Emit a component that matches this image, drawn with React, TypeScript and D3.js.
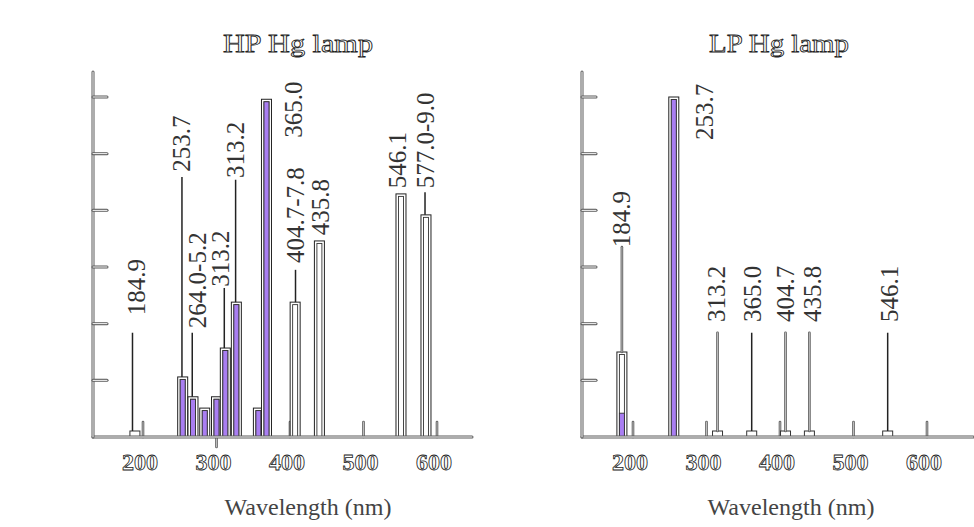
import React from 'react';
import * as d3 from 'd3';

// ---------- shared axis data ----------
const X_TICKS = [200, 300, 400, 500, 600];
const Y_TICKS = [1, 2, 3, 4, 5, 6];

// ---------- HP Hg lamp ----------
const HP_BAR_NM = [254, 268, 284, 300, 312, 327, 357, 368, 407, 440, 551, 585];
const HP_BAR_REL = [1.06, 0.71, 0.51, 0.71, 1.57, 2.38, 0.51, 5.96, 2.38, 3.46, 4.29, 3.92];
const HP_BAR_FILL_REL = [1.06, 0.71, 0.51, 0.71, 1.57, 2.38, 0.51, 5.96, 0, 0, 0, 0];
const HP_LINE_NM = [185.7, 253, 267, 310.6, 326, 407.5, 583.7];
const HP_LINE_REL = [1.84, 4.59, 1.84, 2.63, 4.54, 2.95, 4.32];
const HP_BASE_NM = [189];
const HP_LABELS = ['184.9', '253.7', '264.0-5.2', '313.2', '313.2', '365.0', '404.7-7.8', '435.8', '546.1', '577.0-9.0'];
const HP_LABEL_NM = [190.5, 253, 274, 304.8, 326.5, 405.4, 407.5, 442, 546.3, 583.7];
const HP_LABEL_REL = [2.15, 4.68, 1.92, 2.65, 4.57, 5.28, 3.07, 3.56, 4.39, 4.39];

// ---------- LP Hg lamp ----------
const LP_BAR_NM = [184.9, 255.5];
const LP_BAR_REL = [1.5, 6];
const LP_BAR_FILL_REL = [0.42, 6];
const LP_LINE_NM = [184.9, 315, 361.5, 407.5, 440, 546.5];
const LP_LINE_REL = [3.35, 1.84, 1.84, 1.84, 1.84, 1.84];
const LP_BASE_NM = [315, 361.5, 407.5, 440, 546.5];
const LP_LABELS = ['184.9', '253.7', '313.2', '365.0', '404.7', '435.8', '546.1'];
const LP_LABEL_NM = [184.9, 297.7, 314, 362, 407.5, 444.7, 549];
const LP_LABEL_REL = [3.35, 5.24, 2.03, 2.03, 2.03, 2.03, 2.03];

const PURPLE = '#a97ef2';
const SERIF = "'Liberation Serif', 'Times New Roman', Times, serif";
const BAR_W = 10;
const BASE_Y = 437;

const yScale = d3.scaleLinear().domain([0, 6]).range([BASE_Y, 97]);

type PanelProps = {
  title: string;
  titleX: number;
  titleW: number;
  xScale: d3.ScaleLinear<number, number>;
  axisX: number;
  axisEnd: number;
  barNm: number[];
  barRel: number[];
  barFillRel: number[];
  lineNm: number[];
  lineRel: number[];
  darkLine: (i: number) => boolean;
  baseNm: number[];
  labels: string[];
  labelNm: number[];
  labelRel: number[];
  xlabelX: number;
  downTicks: number[];
};

function Hollow({ d, w = 3 }: { d: string; w?: number }) {
  return (
    <g>
      <path d={d} stroke="#5a5a5a" strokeWidth={w} fill="none" strokeLinecap="round" />
      <path d={d} stroke="#fff" strokeWidth={w - 2} fill="none" strokeLinecap="round" />
    </g>
  );
}

function Panel(p: PanelProps) {
  const x = p.xScale;
  const y = yScale;
  const tickUpH = 15;
  return (
    <g>
      <text x={p.titleX} y={52} textAnchor="middle" style={{ fontFamily: SERIF }} fontSize={25}
        fill="#fff" stroke="#222" strokeWidth={0.8} textLength={p.titleW} lengthAdjust="spacingAndGlyphs">
        {p.title}
      </text>

      {X_TICKS.map((t) => (
        <Hollow key={'tu' + t} d={`M${x(t)},${BASE_Y}V${BASE_Y - tickUpH}`} w={2.6} />
      ))}
      {p.downTicks.map((t) => (
        <Hollow key={'td' + t} d={`M${x(t)},${BASE_Y}V${BASE_Y + 10}`} w={2.6} />
      ))}

      {p.barNm.map((nm, i) => {
        const cx = x(nm);
        const top = y(p.barRel[i]);
        const ftop = y(p.barFillRel[i]);
        return (
          <g key={'b' + i}>
            <rect x={cx - BAR_W / 2} y={top} width={BAR_W} height={BASE_Y - top}
              fill="#fff" stroke="#222" strokeWidth={1} />
            <rect x={cx - BAR_W / 2 + 2.5} y={top + 2.5} width={BAR_W - 5} height={BASE_Y - top - 2.5}
              fill="#fff" stroke="#333" strokeWidth={0.9} />
            {p.barFillRel[i] > 0 && (
              <rect x={cx - BAR_W / 2 + 2.5} y={Math.max(ftop, top + 2.5)} width={BAR_W - 5}
                height={BASE_Y - Math.max(ftop, top + 2.5)} fill={PURPLE} stroke="#333" strokeWidth={0.9} />
            )}
          </g>
        );
      })}

      {p.baseNm.map((nm, i) => (
        <rect key={'bb' + i} x={x(nm) - 5} y={BASE_Y - 6} width={10} height={6}
          fill="#fff" stroke="#333" strokeWidth={1} />
      ))}

      {p.lineNm.map((nm, i) => {
        const cx = x(nm);
        let start = BASE_Y - 6;
        p.barNm.forEach((bn, j) => {
          if (Math.abs(x(bn) - cx) < BAR_W / 2) start = Math.min(start, y(p.barRel[j]));
        });
        const top = y(p.lineRel[i]);
        return p.darkLine(i) ? (
          <line key={'l' + i} x1={cx} x2={cx} y1={start} y2={top} stroke="#222" strokeWidth={1.5} />
        ) : (
          <Hollow key={'l' + i} d={`M${cx},${start}V${top}`} w={2.6} />
        );
      })}

      <Hollow d={`M${p.axisX},${BASE_Y}H${p.axisEnd}`} w={3} />
      <Hollow d={`M${p.axisX},${BASE_Y}V72`} w={3} />
      {Y_TICKS.map((t) => (
        <Hollow key={'yt' + t} d={`M${p.axisX},${y(t)}H${p.axisX + 14}`} w={3} />
      ))}

      {p.labels.map((lab, i) => (
        <text key={'lab' + i}
          transform={`translate(${x(p.labelNm[i])},${y(p.labelRel[i])}) rotate(-90)`}
          dy="0.34em" style={{ fontFamily: SERIF }} fontSize={25} fill="#333">
          {lab}
        </text>
      ))}

      {X_TICKS.map((t) => (
        <text key={'xl' + t} x={x(t) - 3} y={470} textAnchor="middle" style={{ fontFamily: SERIF }}
          fontSize={23} fontWeight="bold" fill="#fff" stroke="#222" strokeWidth={0.8}
          textLength={36} lengthAdjust="spacingAndGlyphs">
          {t}
        </text>
      ))}

      <text x={p.xlabelX} y={515} textAnchor="middle" style={{ fontFamily: SERIF }} fontSize={24} fill="#444"
        textLength={167} lengthAdjust="spacingAndGlyphs">
        Wavelength (nm)
      </text>
    </g>
  );
}

export default function App() {
  const xHP = d3.scaleLinear().domain([200, 600]).range([143, 437]);
  const xLP = d3.scaleLinear().domain([200, 600]).range([633, 927]);
  const lpDark = new Set([2, 5]);
  return (
    <svg width={974} height={527} style={{ position: 'absolute', left: 0, top: 0, background: '#fff' }}>
      <rect width={974} height={527} fill="#fff" />
      <Panel title="HP Hg lamp" titleX={298} titleW={150} xScale={xHP} axisX={93} axisEnd={472}
        barNm={HP_BAR_NM} barRel={HP_BAR_REL} barFillRel={HP_BAR_FILL_REL}
        lineNm={HP_LINE_NM} lineRel={HP_LINE_REL} darkLine={() => true}
        baseNm={HP_BASE_NM} labels={HP_LABELS} labelNm={HP_LABEL_NM} labelRel={HP_LABEL_REL}
        xlabelX={308} downTicks={[300]} />
      <Panel title="LP Hg lamp" titleX={779} titleW={140} xScale={xLP} axisX={582} axisEnd={973}
        barNm={LP_BAR_NM} barRel={LP_BAR_REL} barFillRel={LP_BAR_FILL_REL}
        lineNm={LP_LINE_NM} lineRel={LP_LINE_REL} darkLine={(i) => lpDark.has(i)}
        baseNm={LP_BASE_NM} labels={LP_LABELS} labelNm={LP_LABEL_NM} labelRel={LP_LABEL_REL}
        xlabelX={791} downTicks={[]} />
    </svg>
  );
}
